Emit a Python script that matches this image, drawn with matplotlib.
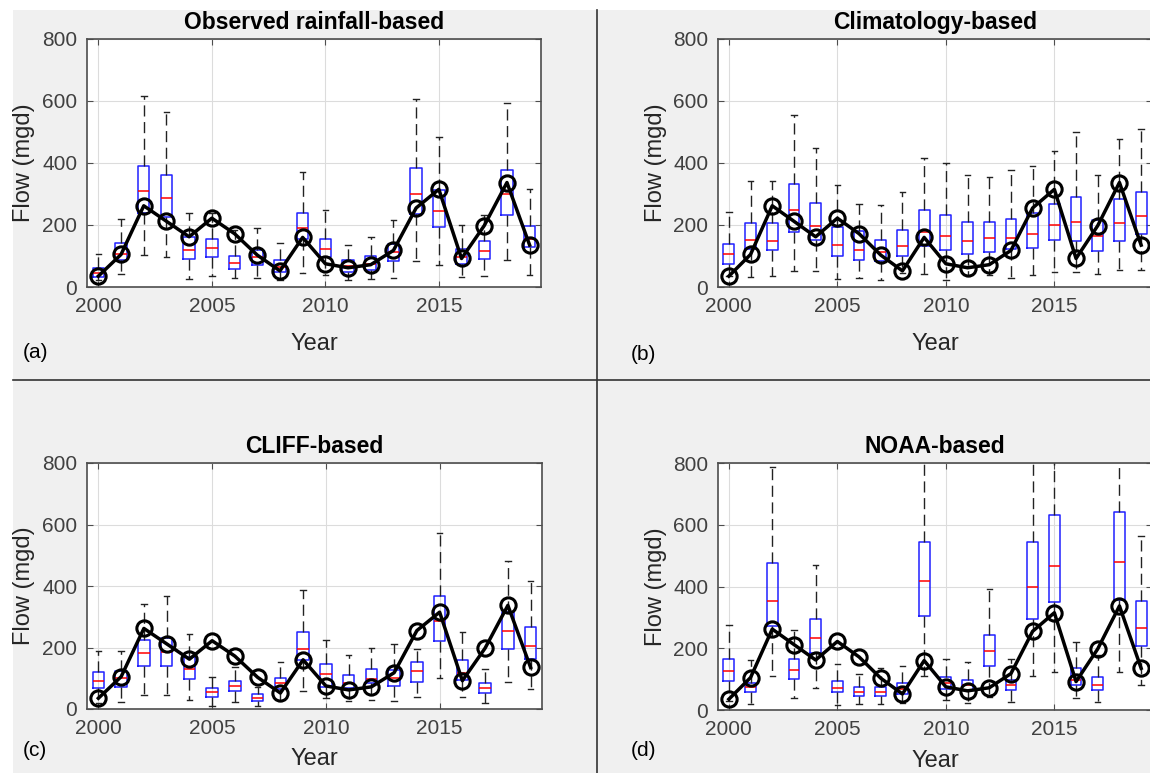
import matplotlib
matplotlib.use("Agg")
import matplotlib.pyplot as plt
from matplotlib.patches import Rectangle
from matplotlib.lines import Line2D

plt.rcParams['font.family'] = ['Liberation Sans', 'DejaVu Sans']

years = list(range(2000, 2020))
observed = [35, 105, 262, 212, 162, 222, 172, 103, 52, 160,
            75, 62, 72, 118, 255, 315, 92, 198, 337, 135]

# (a) observed rainfall-based ensemble
obs_lo  = [22, 41, 102, 97, 27, 35, 28, 28, 22, 46, 38, 22, 26, 30, 84, 72, 32, 35, 88, 38]
obs_q1  = [32, 86, 239, 226, 91, 97, 58, 72, 48, 156, 97, 48, 54, 83, 234, 194, 75, 90, 233, 129]
obs_med = [45, 105, 309, 286, 120, 125, 78, 97, 65, 191, 124, 67, 75, 114, 300, 244, 97, 116, 299, 156]
obs_q3  = [62, 143, 390, 361, 161, 156, 101, 120, 88, 239, 156, 86, 99, 140, 385, 312, 124, 147, 378, 198]
obs_hi  = [105, 220, 615, 565, 239, 240, 183, 191, 143, 371, 249, 134, 160, 217, 607, 484, 200, 231, 595, 317]

# (b) climatology-based
clim_lo  = [34, 31, 34, 53, 53, 26, 29, 24, 45, 43, 24, 40, 40, 29, 40, 47, 48, 42, 54, 54]
clim_q1  = [74, 121, 119, 179, 151, 99, 86, 85, 99, 131, 119, 105, 112, 121, 126, 153, 149, 117, 149, 171]
clim_med = [106, 153, 149, 250, 196, 137, 119, 112, 131, 178, 164, 148, 157, 157, 171, 201, 209, 163, 206, 228]
clim_q3  = [140, 205, 205, 333, 272, 193, 180, 153, 183, 250, 233, 209, 209, 220, 240, 268, 290, 215, 284, 306]
clim_hi  = [242, 342, 342, 556, 448, 330, 268, 264, 307, 417, 399, 360, 356, 377, 390, 438, 500, 360, 478, 509]

# (c) CLIFF-based
cliff_lo  = [20, 22, 46, 46, 30, 11, 22, 9, 30, 57, 35, 25, 30, 25, 39, 102, 39, 19, 89, 65]
cliff_q1  = [68, 73, 140, 140, 99, 39, 60, 25, 65, 159, 73, 68, 84, 76, 89, 222, 95, 52, 196, 161]
cliff_med = [92, 100, 181, 186, 130, 54, 76, 37, 84, 196, 114, 84, 97, 100, 124, 286, 116, 67, 255, 204]
cliff_q3  = [119, 125, 224, 232, 170, 67, 92, 48, 100, 250, 145, 110, 129, 127, 154, 366, 159, 84, 315, 267]
cliff_hi  = [189, 189, 342, 369, 245, 105, 138, 70, 154, 388, 224, 175, 197, 210, 194, 573, 251, 129, 482, 415]

# (d) NOAA-based
noaa_lo  = [30, 18, 110, 38, 70, 16, 18, 18, 24, 110, 32, 24, 41, 27, 110, 124, 38, 27, 124, 81]
noaa_q1  = [93, 58, 272, 101, 183, 58, 45, 45, 52, 304, 67, 65, 142, 65, 295, 350, 81, 65, 356, 207]
noaa_med = [125, 75, 352, 129, 234, 72, 59, 59, 67, 418, 86, 81, 192, 81, 399, 467, 97, 81, 480, 266]
noaa_q3  = [164, 86, 476, 164, 296, 94, 75, 75, 88, 545, 106, 97, 242, 97, 544, 633, 135, 108, 641, 352]
noaa_hi  = [275, 162, 787, 259, 471, 148, 116, 135, 143, 900, 164, 156, 393, 164, 880, 950, 221, 178, 900, 564]

titles = ["Observed rainfall-based", "Climatology-based", "CLIFF-based", "NOAA-based"]
letters = ["(a)", "(b)", "(c)", "(d)"]
panels = [
    (obs_lo, obs_q1, obs_med, obs_q3, obs_hi),
    (clim_lo, clim_q1, clim_med, clim_q3, clim_hi),
    (cliff_lo, cliff_q1, cliff_med, cliff_q3, cliff_hi),
    (noaa_lo, noaa_q1, noaa_med, noaa_q3, noaa_hi),
]

W, H = 1150, 773
fig = plt.figure(figsize=(W / 100, H / 100), dpi=100, facecolor='white')

# gray MATLAB-like background and panel dividers
fig.add_artist(Rectangle((13 / W, 0), 1, 1 - 10 / H, transform=fig.transFigure,
                         facecolor='#f0f0f0', edgecolor='none', zorder=-10))
fig.add_artist(Line2D([13 / W, 1], [1 - 380 / H] * 2, transform=fig.transFigure,
                      color='#333333', lw=1.2))
fig.add_artist(Line2D([597 / W] * 2, [0, 1 - 10 / H], transform=fig.transFigure,
                      color='#333333', lw=1.2))

# axes boxes in pixels: left, top, right, bottom
boxes = [(87, 39, 541, 287), (718, 39, 1152, 287),
         (87, 463, 542, 709), (718, 463, 1152, 710)]
letter_pos = [(35, 352), (643, 355), (35, 750), (643, 750)]

for i in range(4):
    l, t, r, b = boxes[i]
    ax = fig.add_axes([l / W, 1 - b / H, (r - l) / W, (b - t) / H])
    ax.set_facecolor('white')
    lo, q1, med, q3, hi = panels[i]
    stats = []
    for k in range(len(years)):
        stats.append(dict(whislo=lo[k], q1=q1[k], med=med[k], q3=q3[k],
                          whishi=hi[k], fliers=[]))
    ax.bxp(stats, positions=years, widths=0.5, capwidths=0.25, showfliers=False,
           manage_ticks=False,
           boxprops=dict(color='#2020ff', lw=1.1),
           medianprops=dict(color='red', lw=1.1),
           whiskerprops=dict(color='#222222', lw=1, ls=(0, (8, 4))),
           capprops=dict(color='#222222', lw=1))
    ax.plot(years, observed, '-o', color='black', lw=2.5, ms=11,
            mfc='none', mew=2.2, zorder=5)

    ax.set_xlim(1999.5, 2019.5)
    ax.set_ylim(0, 800)
    ax.set_xticks([2000, 2005, 2010, 2015])
    ax.set_yticks([0, 200, 400, 600, 800])
    ax.grid(True, color='#dcdcdc', lw=0.8)
    ax.set_axisbelow(True)
    ax.tick_params(direction='in', length=4, top=True, right=True,
                   color='#4d4d4d', labelcolor='#404040', labelsize=15, pad=7)
    for s in ax.spines.values():
        s.set_color('#4d4d4d')
        s.set_linewidth(1.2)

    ax.set_title(titles[i], fontsize=16.5, fontweight='bold', pad=7)
    ax.set_xlabel('Year', fontsize=17, color='#262626')
    ax.xaxis.set_label_coords(0.5, -0.185 if i < 2 else -0.16)
    ax.set_ylabel('Flow (mgd)', fontsize=17, color='#262626')
    ax.yaxis.set_label_coords(-0.115 if i % 2 == 0 else -0.118, 0.5)

    fx, fy = letter_pos[i]
    fig.text(fx / W, 1 - fy / H, letters[i], fontsize=15, ha='center', va='center')

fig.savefig('out.png', dpi=100, facecolor='white')
